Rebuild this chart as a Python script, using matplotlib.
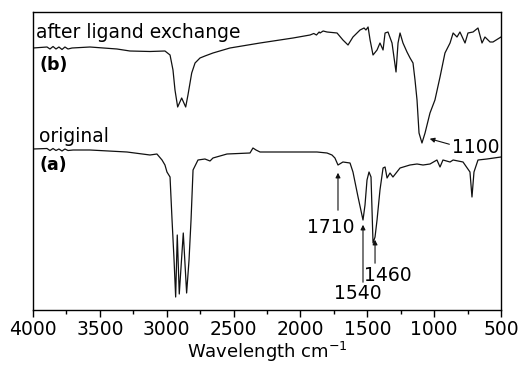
import numpy as np
import matplotlib
matplotlib.use("Agg")
import matplotlib.pyplot as plt
from matplotlib.ticker import MultipleLocator

# trace (b): after ligand exchange  (wavenumber, signal in arbitrary units)
wn_b = [4000, 3895, 3873, 3850, 3828, 3806, 3783, 3761, 3738, 3708, 3574, 3372, 3275,
        3125, 3013, 2975, 2953, 2938, 2918, 2888, 2858, 2841, 2813, 2788, 2751, 2714,
        2654, 2527, 2302, 2055, 1928, 1900, 1880, 1860, 1853, 1830, 1801, 1726, 1682,
        1644, 1607, 1554, 1524, 1510, 1494, 1479, 1457, 1427, 1405, 1382, 1367, 1345,
        1315, 1285, 1270, 1255, 1233, 1203, 1180, 1158, 1143, 1128, 1113, 1091, 1068,
        1031, 994, 956, 919, 881, 858, 829, 807, 769, 747, 709, 672, 642, 620, 582,
        560, 500]
y_b = [262, 263, 261, 263.5, 261, 263, 260.5, 263, 261, 262, 263, 261, 259,
       258.5, 259, 255, 240, 220, 203, 212, 203, 215, 237, 247, 252, 254,
       257, 262, 267, 272, 275, 276.5, 275, 278, 277, 279, 278, 277, 270,
       265, 273, 280, 282, 280, 283, 270, 255, 260, 267, 260, 277, 278,
       267, 238, 267, 277, 267, 258, 252, 247, 230, 210, 177, 167, 177,
       197, 210, 233, 257, 267, 277, 273, 278, 267, 277, 278, 282, 267, 273, 268,
       268, 273]

# trace (a): original
wn_a = [4000, 3895, 3873, 3850, 3828, 3806, 3783, 3761, 3738, 3700, 3574, 3297, 3125,
        3073, 3035, 3013, 2998, 2975, 2960, 2945, 2933, 2921, 2906, 2876, 2851, 2833,
        2818, 2803, 2766, 2714, 2676, 2654, 2549, 2377, 2355, 2332, 2302, 2130, 1876,
        1801, 1764, 1742, 1719, 1682, 1629, 1607, 1569, 1532, 1517, 1502, 1487, 1472,
        1457, 1442, 1427, 1405, 1382, 1367, 1352, 1330, 1308, 1255, 1181, 1128, 1083,
        1031, 979, 956, 934, 881, 858, 784, 732, 717, 702, 672, 605, 500]
y_a = [161, 161.5, 159.5, 161.5, 159.5, 161, 159, 161, 159.5, 160, 160, 158, 155,
       156, 150, 145, 138, 133, 90, 50, 13, 75, 16, 77, 17, 50,
       90, 140, 150, 151, 149, 152, 156, 157, 162, 160, 158, 158, 158,
       157, 155, 152, 145, 148, 147, 138, 113, 90, 105, 130, 138, 133,
       67, 73, 90, 120, 142, 143, 132, 137, 133, 142, 145, 146, 145,
       146, 150, 143, 150, 148, 150, 148, 138, 113, 138, 150, 151, 153]

fig = plt.figure(figsize=(5.21, 3.68), dpi=100)
ax = fig.add_axes([0.0633, 0.1576, 0.8983, 0.8098])

ax.plot(wn_b, y_b, color="#111111", lw=0.9)
ax.plot(wn_a, y_a, color="#111111", lw=0.9)

ax.set_xlim(4000, 500)
ax.set_ylim(0, 298)
ax.set_yticks([])
ax.xaxis.set_major_locator(MultipleLocator(500))
ax.xaxis.set_minor_locator(MultipleLocator(250))
ax.tick_params(axis="x", which="major", direction="out", length=5, width=1, labelsize=13.5, pad=2)
ax.tick_params(axis="x", which="minor", direction="out", length=3, width=1)
for s in ax.spines.values():
    s.set_linewidth(1)

ax.set_xlabel("Wavelength cm$^{-1}$", fontsize=13, labelpad=1)

# labels
ax.text(3978, 277, "after ligand exchange", fontsize=13.5, va="center", ha="left")
ax.text(3948, 245, "(b)", fontsize=12.5, fontweight="bold", va="center", ha="left")
ax.text(3955, 173, "original", fontsize=13.5, va="center", ha="left")
ax.text(3948, 145, "(a)", fontsize=12.5, fontweight="bold", va="center", ha="left")

# peak annotations
arrow = dict(arrowstyle="-|>", color="#111111", lw=0.8, mutation_scale=7)
ax.annotate("", xy=(1719, 140), xytext=(1719, 97), arrowprops=arrow)
ax.text(1775, 83, "1710", fontsize=13.5, ha="center", va="center")
ax.annotate("", xy=(1532, 88), xytext=(1532, 25), arrowprops=arrow)
ax.text(1573, 17, "1540", fontsize=13.5, ha="center", va="center")
ax.annotate("", xy=(1442, 73), xytext=(1442, 44), arrowprops=arrow)
ax.text(1349, 35, "1460", fontsize=13.5, ha="center", va="center")
ax.annotate("", xy=(1053, 172), xytext=(866, 165), arrowprops=arrow)
ax.text(691, 162, "1100", fontsize=13.5, ha="center", va="center")

fig.savefig("out.png", dpi=100)
